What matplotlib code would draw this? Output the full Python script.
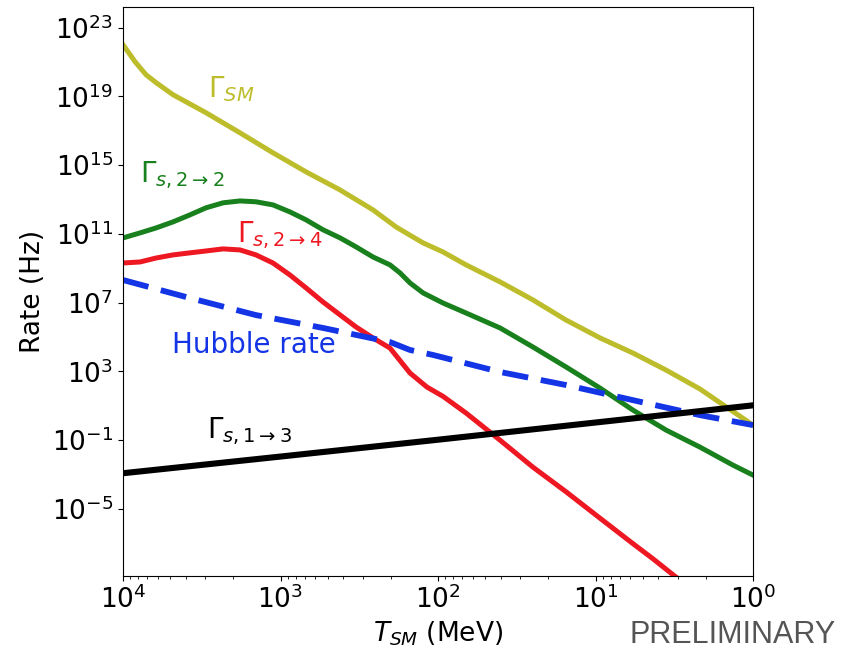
import numpy as np
import matplotlib.pyplot as plt

# log10 of temperature (MeV) and log10 of rate (Hz) for each process
lT_sm = [4.0, 3.924, 3.854, 3.79, 3.683, 3.473, 3.257, 3.048, 2.838, 2.622,
         2.413, 2.267, 2.203, 2.095, 1.968, 1.822, 1.606, 1.397, 1.187, 0.971,
         0.762, 0.552, 0.337, 0.19, 0.0]
lG_sm = [22.01, 21.02, 20.26, 19.80, 19.10, 18.05, 16.88, 15.72, 14.61, 13.56,
         12.40, 11.41, 11.06, 10.48, 9.95, 9.20, 8.21, 7.16, 5.99, 4.95,
         4.07, 3.08, 1.98, 1.06, -0.12]

lT_22 = [4.0, 3.892, 3.79, 3.683, 3.575, 3.473, 3.365, 3.257, 3.156, 3.048,
         2.94, 2.838, 2.73, 2.622, 2.521, 2.413, 2.305, 2.241, 2.178, 2.095,
         1.968, 1.822, 1.606, 1.397, 1.187, 0.971, 0.762, 0.552, 0.337, 0.127, 0.0]
lG_22 = [10.77, 11.06, 11.35, 11.70, 12.11, 12.52, 12.81, 12.92, 12.87, 12.69,
         12.28, 11.82, 11.24, 10.77, 10.25, 9.66, 9.20, 8.73, 8.15, 7.57,
         6.98, 6.40, 5.53, 4.42, 3.26, 2.03, 0.75, -0.41, -1.40, -2.45, -3.03]

lT_24 = [4.0, 3.892, 3.79, 3.683, 3.575, 3.473, 3.365, 3.257, 3.156, 3.048,
         2.94, 2.838, 2.73, 2.622, 2.521, 2.413, 2.305, 2.178, 2.07, 1.968,
         1.822, 1.606, 1.397, 1.187, 0.971, 0.762, 0.635, 0.495, 0.336]
lG_24 = [9.31, 9.37, 9.60, 9.78, 9.90, 10.01, 10.13, 10.07, 9.78, 9.31,
         8.61, 7.86, 7.04, 6.29, 5.59, 4.95, 4.36, 2.91, 2.09, 1.55,
         0.58, -1.0, -2.57, -4.0, -5.54, -7.02, -7.9, -8.92, -10.02]

lT_H = [4.0, 3.575, 3.156, 2.73, 2.305, 2.178, 2.032, 1.606, 1.187,
        0.762, 0.337, 0.0]
lG_H = [8.32, 7.27, 6.28, 5.53, 4.71, 4.25, 3.96, 2.97, 2.21,
        1.33, 0.46, -0.12]

lT_13 = [4.0, 3.0, 2.0, 1.0, 0.0]
lG_13 = [-2.92, -1.95, -0.97, 0.03, 1.03]

c_sm = '#bdbd2c'
c_22 = '#18801c'
c_24 = '#ee1822'
c_H = '#1435e6'
c_13 = 'black'

fig = plt.figure(figsize=(8.41, 6.5), dpi=100)
ax = fig.add_axes([0.1463, 0.1138, 0.7491, 0.8754])

def curve(lT, lG, **kw):
    ax.plot(10**np.array(lT), 10**np.array(lG), **kw)

curve(lT_sm, lG_sm, color=c_sm, lw=3.6)
curve(lT_22, lG_22, color=c_22, lw=3.6)
curve(lT_24, lG_24, color=c_24, lw=3.6)
curve(lT_H, lG_H, color=c_H, lw=4.2, ls=(0, (4.5, 2.2)))
curve(lT_13, lG_13, color=c_13, lw=4.4)

ax.set_xscale('log')
ax.set_yscale('log')
ax.set_xlim(1e4, 1.0)
ax.set_ylim(10**-8.9, 10**24.2)
ax.set_yticks([10.0**k for k in range(-5, 24, 4)])
ax.yaxis.set_minor_locator(plt.NullLocator())
ax.tick_params(labelsize=19)

ax.set_xlabel(r'$T_{SM}$ (MeV)', fontsize=19)
ax.set_ylabel('Rate (Hz)', fontsize=19)

ax.text(10**3.46, 10**18.98, r'$\Gamma_{SM}$', color=c_sm, fontsize=20)
ax.text(10**3.892, 10**14.03, r'$\Gamma_{s,2\rightarrow 2}$', color=c_22, fontsize=20)
ax.text(10**3.276, 10**10.54, r'$\Gamma_{s,2\rightarrow 4}$', color=c_24, fontsize=20)
ax.text(10**3.689, 10**4.07, 'Hubble rate', color=c_H, fontsize=20)
ax.text(10**3.467, 10**-0.88, r'$\Gamma_{s,1\rightarrow 3}$', color=c_13, fontsize=20)

fig.text(0.994, 0.0, 'PRELIMINARY', color='#555555', fontsize=22,
         family='Liberation Sans', ha='right', va='bottom')

fig.savefig('out.png', dpi=100)
